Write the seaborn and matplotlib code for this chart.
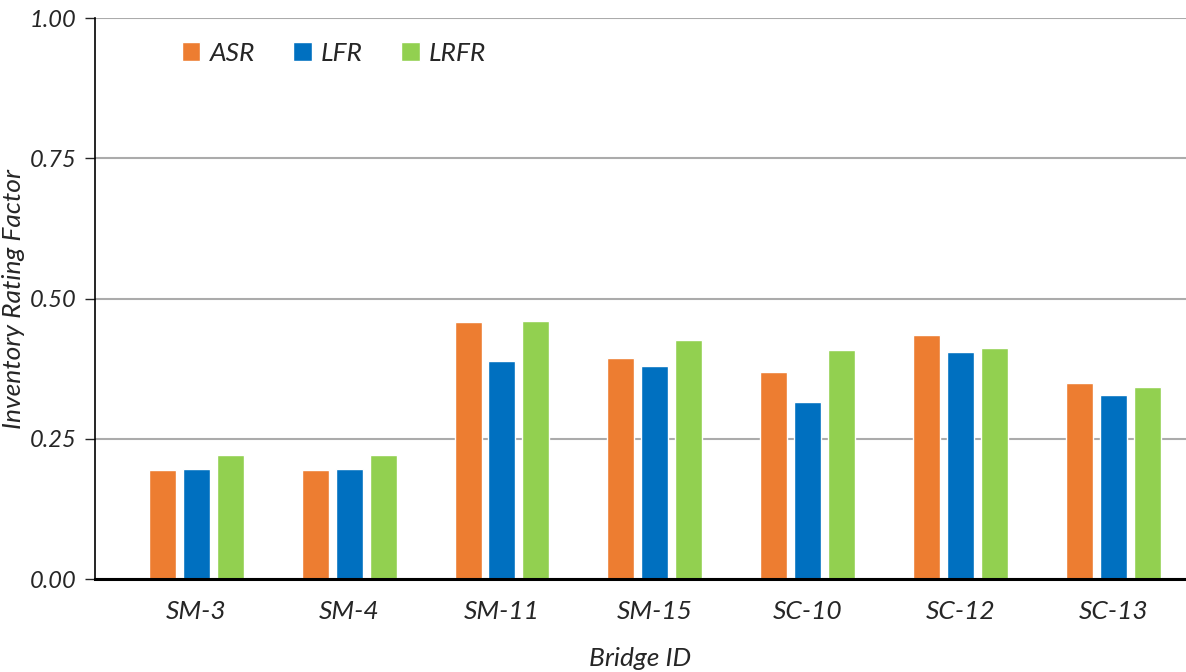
import pandas as pd
import matplotlib.pyplot as plt
import seaborn as sns

bridges = ["SM-3", "SM-4", "SM-11", "SM-15", "SC-10", "SC-12", "SC-13"]
asr = [0.195, 0.195, 0.458, 0.394, 0.370, 0.435, 0.349]
lfr = [0.197, 0.197, 0.389, 0.380, 0.316, 0.405, 0.329]
lrfr = [0.221, 0.221, 0.461, 0.427, 0.408, 0.413, 0.342]
methods = ["ASR", "LFR", "LRFR"]
colors = ["#ED7D31", "#0070C0", "#92D050"]

df = pd.DataFrame({"bridge": bridges, "ASR": asr, "LFR": lfr, "LRFR": lrfr})
df = df.melt(id_vars="bridge", var_name="method", value_name="rf")

sns.set_style("white")
plt.rcParams["font.family"] = ["Lato", "DejaVu Sans"]
plt.rcParams["font.style"] = "italic"
fs = 19

fig = plt.figure(figsize=(11.86, 6.72), dpi=100)
ax = fig.add_axes([0.080, 0.138, 0.920, 0.835])

sns.barplot(data=df, x="bridge", y="rf", hue="method", order=bridges,
            hue_order=methods, palette=colors, width=0.667, gap=0.205,
            saturation=1, ax=ax, zorder=3)

ax.set_ylim(0, 1.0)
ax.set_xlim(-0.664, 6.476)
ax.set_yticks([0, 0.25, 0.5, 0.75, 1.0])
ax.set_yticklabels([f"{v:.2f}" for v in [0, 0.25, 0.5, 0.75, 1.0]],
                   fontsize=17, style="italic")
ax.set_xticks(range(len(bridges)))
ax.set_xticklabels(bridges, fontsize=fs, style="italic")
ax.tick_params(axis="x", length=0, pad=15)
ax.tick_params(axis="y", length=7, width=1, direction="out", pad=6, left=True)
ax.yaxis.grid(True, color="#ABABAB", linewidth=1.5, zorder=0)
ax.set_axisbelow(True)

for s in ["top", "right"]:
    ax.spines[s].set_visible(False)
ax.spines["left"].set_color("black")
ax.spines["left"].set_linewidth(1.2)
ax.spines["bottom"].set_color("black")
ax.spines["bottom"].set_linewidth(2.2)
ax.spines["bottom"].set_zorder(5)

ax.set_ylabel("Inventory Rating Factor", fontsize=fs, style="italic")
ax.yaxis.set_label_coords(-0.064, 0.5)
ax.set_xlabel("Bridge ID", fontsize=fs, style="italic", labelpad=17)

leg = ax.legend(loc="upper left", bbox_to_anchor=(0.058, 1.0), ncol=3,
                frameon=False, fontsize=fs, handlelength=0.7, handleheight=0.7,
                handletextpad=0.35, columnspacing=1.45)
for t in leg.get_texts():
    t.set_style("italic")

fig.savefig("out.png", dpi=100)
